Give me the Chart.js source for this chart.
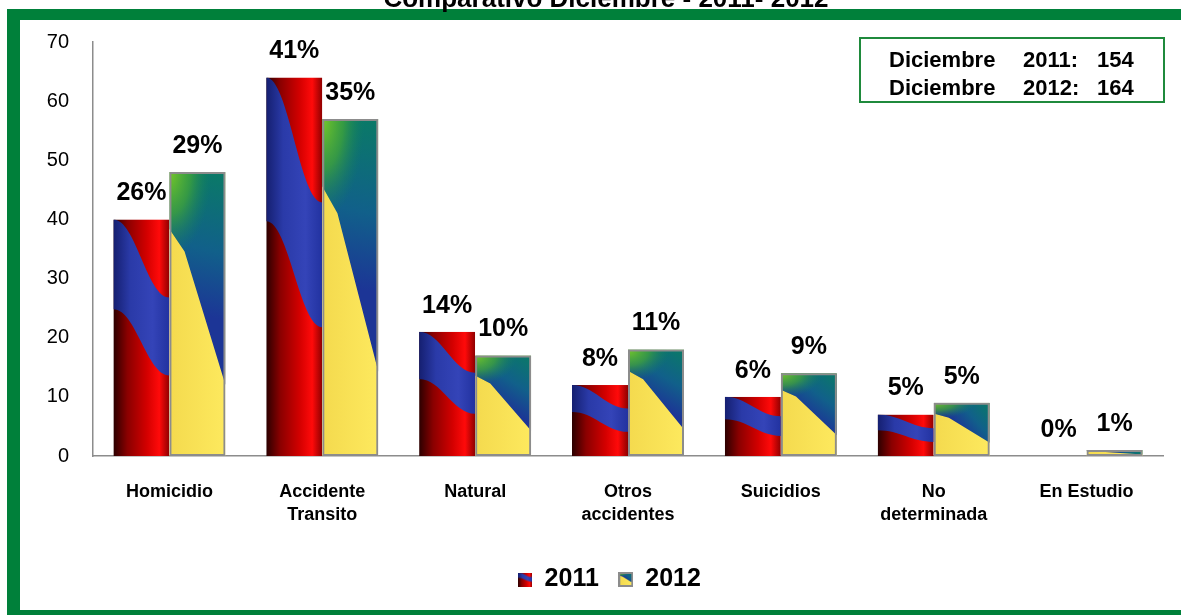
<!DOCTYPE html>
<html>
<head>
<meta charset="utf-8">
<script src="https://cdn.jsdelivr.net/npm/chart.js@4.4.1/dist/chart.umd.min.js"></script>
<style>
    html, body { margin: 0; padding: 0; background: #fff; overflow: hidden; }
    #wrap { position: relative; width: 1181px; height: 615px; overflow: hidden; }
    #frame {
        position: absolute; left: 7px; top: 9px; width: 1300px; height: 611px;
        box-sizing: border-box; border: 0 solid #00803a;
        border-left-width: 13px; border-top-width: 11px; border-bottom-width: 10px;
    }
    #title {
        position: absolute; left: 0; width: 1212px; top: -15px; text-align: center;
        font: bold 26px "Liberation Sans", Arial, sans-serif; line-height: 26px;
        color: #000; white-space: pre;
    }
    #totals {
        position: absolute; left: 859px; top: 37px; width: 306px; height: 66px;
        box-sizing: border-box; border: 2px solid #1f8a3c; background: #fff;
        font: bold 22px "Liberation Sans", Arial, sans-serif; color: #000;
    }
    #totals div { position: absolute; left: 28px; height: 28px; line-height: 28px; width: 270px; }
    #totals span { position: absolute; top: 0; white-space: nowrap; }
    canvas { position: absolute; left: 0; top: 0; }
</style>
</head>
<body>
<div id="wrap">
    <canvas id="deathsChart" width="1181" height="615"></canvas>
    <div id="frame"></div>
    <div id="title">Comparativo Diciembre - 2011- 2012</div>
    <div id="totals">
        <div style="top:7px"><span style="left:0">Diciembre</span><span style="left:134px">2011:</span><span style="left:208px">154</span></div>
        <div style="top:35px"><span style="left:0">Diciembre</span><span style="left:134px">2012:</span><span style="left:208px">164</span></div>
    </div>
</div>
<script>
// ============================================
// Data
// ============================================
const categories = ['Homicidio', ['Accidente', 'Transito'], 'Natural',
    ['Otros', 'accidentes'], 'Suicidios', ['No', 'determinada'], 'En Estudio'];
const values2011 = [40, 64, 21, 12, 10, 7, 0];
const values2012 = [48, 57, 17, 18, 14, 9, 1];
const pct2011 = ['26%', '41%', '14%', '8%', '6%', '5%', '0%'];
const pct2012 = ['29%', '35%', '10%', '11%', '9%', '5%', '1%'];
const yMin = 0, yMax = 70, yStep = 10;

const FONT = '"Liberation Sans", Arial, sans-serif';

// ============================================
// Bar fills (red/blue and yellow/teal)
// ============================================
function paintRed(ctx, l, t, w, h) {
    const g = ctx.createLinearGradient(l, 0, l + w, 0);
    g.addColorStop(0, '#2b0000');
    g.addColorStop(0.25, '#8a0000');
    g.addColorStop(0.6, '#d40000');
    g.addColorStop(0.82, '#ff0a0a');
    g.addColorStop(1, '#8e0000');
    ctx.fillStyle = g;
    ctx.fillRect(l, t, w, h);

    // wavy blue band
    ctx.beginPath();
    ctx.moveTo(l, t);
    ctx.bezierCurveTo(l + 0.4 * w, t, l + 0.6 * w, t + 0.33 * h, l + w, t + 0.33 * h);
    ctx.lineTo(l + w, t + 0.66 * h);
    ctx.bezierCurveTo(l + 0.6 * w, t + 0.66 * h, l + 0.4 * w, t + 0.38 * h, l, t + 0.38 * h);
    ctx.closePath();
    const b = ctx.createLinearGradient(l, 0, l + w, 0);
    b.addColorStop(0, '#151f70');
    b.addColorStop(0.3, '#2a3aa8');
    b.addColorStop(0.7, '#3444b8');
    b.addColorStop(1, '#2232a0');
    ctx.fillStyle = b;
    ctx.fill();
}

function paintGreen(ctx, l, t, w, h) {
    const y = ctx.createLinearGradient(l, 0, l + w, 0);
    y.addColorStop(0, '#f4da4e');
    y.addColorStop(1, '#fde95e');
    ctx.fillStyle = y;
    ctx.fillRect(l, t, w, h);

    ctx.save();
    ctx.beginPath();
    ctx.moveTo(l, t);
    ctx.lineTo(l + w, t);
    ctx.lineTo(l + w, t + 0.75 * h);
    ctx.lineTo(l + 0.27 * w, t + 0.28 * h);
    ctx.lineTo(l, t + 0.2 * h);
    ctx.closePath();
    const g = ctx.createLinearGradient(l + w, t, l + 0.45 * w, t + 0.5 * h);
    g.addColorStop(0, '#0a7a66');
    g.addColorStop(0.55, '#11608a');
    g.addColorStop(1, '#1c3596');
    ctx.fillStyle = g;
    ctx.fill();
    ctx.clip();

    // green glow in the top-left corner
    const rx = 0.75 * w, ry = 0.3 * h;
    ctx.translate(l, t);
    ctx.scale(rx, ry);
    const r = ctx.createRadialGradient(0, 0, 0, 0, 0, 1);
    r.addColorStop(0, 'rgba(120,200,40,1)');
    r.addColorStop(0.5, 'rgba(70,170,50,0.7)');
    r.addColorStop(1, 'rgba(20,130,90,0)');
    ctx.fillStyle = r;
    ctx.fillRect(0, 0, w / rx, h / ry);
    ctx.restore();
}

function legendIcon(painter, size, border) {
    const c = document.createElement('canvas');
    c.width = size;
    c.height = size;
    const cx = c.getContext('2d');
    if (border) {
        painter(cx, 1, 1, size - 2, size - 2);
        cx.strokeStyle = '#8c8c8c';
        cx.lineWidth = 2;
        cx.strokeRect(1, 1, size - 2, size - 2);
    } else {
        painter(cx, 0, 0, size, size);
    }
    return c;
}

const painters = [paintRed, paintGreen];
const pctLabels = [pct2011, pct2012];

// ============================================
// Plugins
// ============================================
const barFillPlugin = {
    id: 'barFill',
    beforeDatasetsDraw(chart) {
        const ctx = chart.ctx;
        chart.data.datasets.forEach((ds, di) => {
            chart.getDatasetMeta(di).data.forEach(el => {
                const { x, y, base, width } = el.getProps(['x', 'y', 'base', 'width'], true);
                const t = Math.min(y, base), h = Math.abs(base - y);
                if (h < 0.5) return;
                const l = x - width / 2;
                ctx.save();
                ctx.beginPath();
                ctx.rect(l, t, width, h);
                ctx.clip();
                painters[di](ctx, l, t, width, h);
                ctx.restore();
            });
        });
    }
};

const pctLabelPlugin = {
    id: 'pctLabels',
    afterDatasetsDraw(chart) {
        const ctx = chart.ctx;
        ctx.save();
        ctx.font = 'bold 25px ' + FONT;
        ctx.fillStyle = '#000';
        ctx.textAlign = 'center';
        ctx.textBaseline = 'middle';
        chart.data.datasets.forEach((ds, di) => {
            chart.getDatasetMeta(di).data.forEach((el, i) => {
                const { x, y } = el.getProps(['x', 'y'], true);
                ctx.fillText(pctLabels[di][i], x, y - 26);
            });
        });
        ctx.restore();
    }
};

// legend in the original sits a bit right of the page centre
const legendShiftPlugin = {
    id: 'legendShift',
    afterLayout(chart) {
        if (chart.legend) {
            chart.legend.left += 18;
            chart.legend.right += 18;
        }
    }
};

// ============================================
// Chart
// ============================================
const icon2011 = legendIcon(paintRed, 14, false);
const icon2012 = legendIcon(paintGreen, 15, true);

new Chart(document.getElementById('deathsChart').getContext('2d'), {
    type: 'bar',
    data: {
        labels: categories,
        datasets: [{
            label: '2011',
            data: values2011,
            backgroundColor: 'rgba(0,0,0,0)',
            borderWidth: 0
        }, {
            label: '2012',
            data: values2012,
            backgroundColor: 'rgba(0,0,0,0)',
            borderColor: '#8c8c8c',
            borderWidth: 2,
            borderSkipped: false
        }]
    },
    options: {
        responsive: false,
        animation: false,
        devicePixelRatio: 1,
        categoryPercentage: 0.733,
        barPercentage: 1,
        layout: { padding: { left: 20, right: 18, top: 42, bottom: 13 } },
        plugins: {
            tooltip: { enabled: false },
            legend: {
                position: 'bottom',
                labels: {
                    usePointStyle: true,
                    boxWidth: 14,
                    boxHeight: 14,
                    padding: 20,
                    color: '#000',
                    font: { family: FONT, size: 25, weight: 'bold' },
                    generateLabels: () => [
                        { text: '2011', pointStyle: icon2011, datasetIndex: 0, lineWidth: 0,
                          strokeStyle: 'rgba(0,0,0,0)', fillStyle: '#c00', fontColor: '#000' },
                        { text: '2012', pointStyle: icon2012, datasetIndex: 1, lineWidth: 0,
                          strokeStyle: 'rgba(0,0,0,0)', fillStyle: '#fde95e', fontColor: '#000' }
                    ]
                }
            }
        },
        scales: {
            x: {
                grid: { display: false, drawTicks: false },
                border: { display: true, color: '#8c8c8c', width: 1.5 },
                ticks: {
                    color: '#000',
                    padding: 24,
                    maxRotation: 0,
                    font: { family: FONT, size: 18, weight: 'bold', lineHeight: 1.3 }
                },
                afterFit(scale) { scale.height = 91; }
            },
            y: {
                min: yMin,
                max: yMax,
                grid: { display: false, drawTicks: false },
                border: { display: true, color: '#8c8c8c', width: 1.5 },
                ticks: {
                    stepSize: yStep,
                    color: '#000',
                    padding: 24,
                    font: { family: FONT, size: 20 }
                },
                afterFit(scale) { scale.width = 73; }
            }
        }
    },
    plugins: [barFillPlugin, pctLabelPlugin, legendShiftPlugin]
});
</script>
</body>
</html>
